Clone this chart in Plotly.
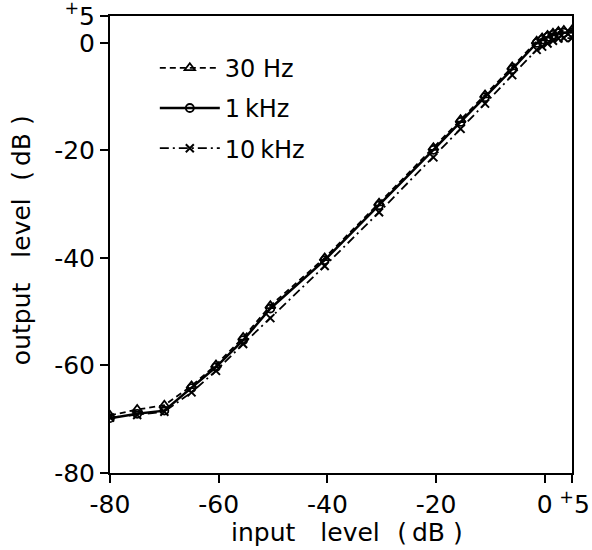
import plotly.graph_objects as go

# input level (dB) at the measuring points
input_db = [-80, -75, -70, -65, -60.5, -55.5, -50.5, -40.5, -30.5, -20.5,
            -15.5, -11, -6, -1.5, -0.5, 0.5, 1.5, 2.5, 3.5, 5]

# output level (dB)
out_30hz = [-69.3, -68.2, -67.4, -63.8, -59.9, -54.8, -48.9, -40.0, -29.8, -19.5,
            -14.3, -9.7, -4.5, 0.3, 0.9, 1.4, 1.8, 2.1, 2.3, 2.4]
out_1khz = [-69.8, -69.0, -68.4, -64.2, -60.3, -55.3, -49.4, -40.4, -30.2, -19.9,
            -14.7, -10.1, -4.9, 0.0, 0.6, 1.1, 1.5, 1.8, 1.9, 2.0]
out_10khz = [-69.7, -69.2, -68.6, -65.0, -61.0, -56.0, -51.2, -41.5, -31.5, -21.3,
             -16.0, -11.3, -6.0, -1.3, -0.7, -0.1, 0.4, 0.8, 0.9, 0.9]

tick_vals = [-80, -60, -40, -20, 0, 5]
x_tick_text = ["-80", "-60", "-40", "-20", "0", "\u2009<sup>+</sup>5"]
y_tick_text = ["-80", "-60", "-40", "-20", "0", "<sup>+</sup>5"]

x_title = "input\u2003level\u2002\u2009(\u2009dB\u00a0)"
y_title = "output\u2003level\u2002\u2009(\u2009dB\u00a0)"

FONT = "DejaVu Sans"

fig = go.Figure()
fig.add_trace(go.Scatter(
    x=input_db, y=out_30hz, name="30\u00a0Hz", mode="lines+markers",
    line=dict(color="black", width=1.8, dash="6px,4px"),
    marker=dict(symbol="triangle-up-open", size=9, color="black",
                line=dict(width=1.8, color="black")),
    legendgroup="a",
))
fig.add_trace(go.Scatter(
    x=input_db, y=out_1khz, name="1\u2009kHz", mode="lines+markers",
    line=dict(color="black", width=2.5),
    marker=dict(symbol="circle-open", size=8, color="black",
                line=dict(width=1.8, color="black")),
    legendgroup="b",
))
fig.add_trace(go.Scatter(
    x=input_db, y=out_10khz, name="10\u2009kHz", mode="lines+markers",
    line=dict(color="black", width=1.8, dash="9px,4px,2px,4px"),
    marker=dict(symbol="x-thin-open", size=8, color="black",
                line=dict(width=2, color="black")),
    legendgroup="c",
))

axis_style = dict(
    showline=True, linecolor="black", linewidth=2, mirror=True,
    ticks="outside", ticklen=8, tickwidth=2, tickcolor="black",
    showgrid=False, zeroline=False, automargin=False,
    tickangle=0, ticklabeloverflow="allow",
    tickfont=dict(family=FONT, size=25, color="black"),
)

fig.update_xaxes(range=[-80, 5], tickvals=tick_vals, ticktext=x_tick_text, **axis_style)
fig.update_yaxes(range=[-80, 5], tickvals=tick_vals, ticktext=y_tick_text, **axis_style)

# axis titles
fig.add_annotation(text=x_title, xref="paper", yref="paper", x=0.513, y=-0.13,
                   xanchor="center", yanchor="middle", showarrow=False,
                   font=dict(family=FONT, size=25, color="black"))
fig.add_annotation(text=y_title, xref="paper", yref="paper", x=-0.19, y=0.51,
                   xanchor="center", yanchor="middle", textangle=-90,
                   showarrow=False, font=dict(family=FONT, size=25, color="black"))

fig.update_layout(
    width=592, height=550,
    margin=dict(l=110, r=20, t=16, b=77),
    plot_bgcolor="white", paper_bgcolor="white",
    font=dict(family=FONT, color="black"),
    legend=dict(
        x=0.097, y=0.935, xanchor="left", yanchor="top",
        font=dict(family=FONT, size=24, color="black"),
        bgcolor="rgba(0,0,0,0)", tracegroupgap=6, itemwidth=60,
    ),
)

fig.write_html("out.html", config={"displayModeBar": False},
               post_script="document.body.style.margin='0';")
